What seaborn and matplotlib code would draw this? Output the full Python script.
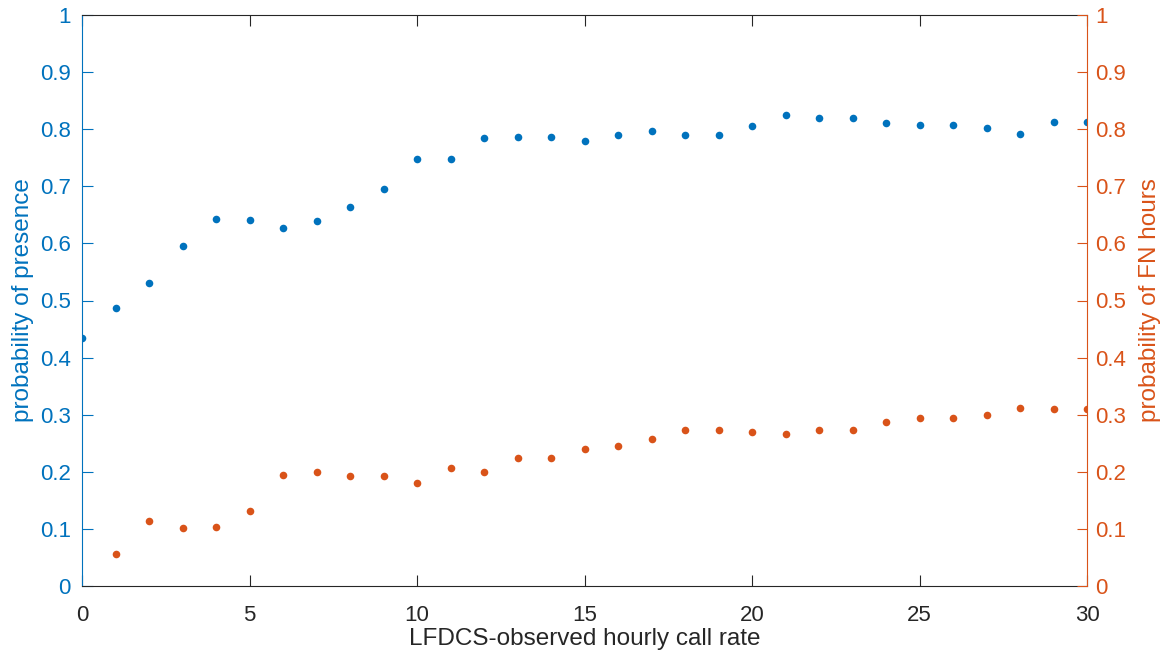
import numpy as np
import pandas as pd
import seaborn as sns
import matplotlib.pyplot as plt
from matplotlib.ticker import FuncFormatter

# values
call_rate = list(range(31))
p_presence = [0.435, 0.486, 0.531, 0.595, 0.642, 0.641, 0.627, 0.639, 0.664, 0.696,
              0.748, 0.747, 0.785, 0.787, 0.787, 0.779, 0.790, 0.797, 0.789, 0.789,
              0.806, 0.824, 0.820, 0.820, 0.811, 0.807, 0.807, 0.802, 0.791, 0.813,
              0.813]
p_fn_hours = [np.nan, 0.056, 0.114, 0.102, 0.103, 0.131, 0.194, 0.200, 0.192, 0.193,
              0.181, 0.207, 0.200, 0.224, 0.224, 0.240, 0.245, 0.257, 0.273, 0.273,
              0.270, 0.267, 0.273, 0.273, 0.287, 0.294, 0.294, 0.300, 0.312, 0.310,
              0.310]
y_ticks = [0, 0.1, 0.2, 0.3, 0.4, 0.5, 0.6, 0.7, 0.8, 0.9, 1]
x_ticks = [0, 5, 10, 15, 20, 25, 30]

df = pd.DataFrame({'rate': call_rate, 'presence': p_presence, 'fn': p_fn_hours})

sns.set_theme(style="white")
plt.rcParams['font.family'] = ['Liberation Sans', 'DejaVu Sans']

blue = '#0072BD'
orange = '#D95319'
dark = '#262626'

fig = plt.figure(figsize=(11.74, 6.57), dpi=100)
ax = fig.add_axes([82/1174, 1 - 586/657, (1087 - 82)/1174, (586 - 15)/657])

sns.scatterplot(data=df, x='rate', y='presence', ax=ax, color=blue, s=30, linewidth=0)
ax2 = ax.twinx()
sns.scatterplot(data=df, x='rate', y='fn', ax=ax2, color=orange, s=30, linewidth=0)

fmt = FuncFormatter(lambda v, p: f'{v:g}')
for a in (ax, ax2):
    a.set_xlim(0, 30)
    a.set_ylim(0, 1)
    a.set_yticks(y_ticks)
    a.yaxis.set_major_formatter(fmt)

ax.set_xticks(x_ticks)
ax.tick_params(axis='x', direction='in', top=True, bottom=True, length=8, width=0.8,
               color=dark, labelcolor=dark, labelsize=16, pad=14)
ax.tick_params(axis='y', direction='in', left=True, right=False, length=8, width=0.8,
               color=blue, labelcolor=blue, labelsize=16, pad=8)
ax2.tick_params(axis='y', direction='in', right=True, left=False, length=7, width=0.8,
                color=orange, labelcolor=orange, labelsize=16, pad=6)

for s in ('top', 'bottom'):
    ax.spines[s].set_color(dark)
    ax.spines[s].set_linewidth(0.8)
    ax2.spines[s].set_visible(False)
ax.spines['left'].set_color(blue)
ax.spines['left'].set_linewidth(0.8)
ax.spines['right'].set_visible(False)
ax2.spines['left'].set_visible(False)
ax2.spines['right'].set_color(orange)
ax2.spines['right'].set_linewidth(0.8)

ax.set_xlabel('LFDCS-observed hourly call rate', fontsize=17.5, color=dark, labelpad=1)
ax.set_ylabel('probability of presence', fontsize=17.5, color=blue, labelpad=4)
ax2.set_ylabel('probability of FN hours', fontsize=17.5, color=orange, labelpad=9)

fig.savefig('out.png', dpi=100)
